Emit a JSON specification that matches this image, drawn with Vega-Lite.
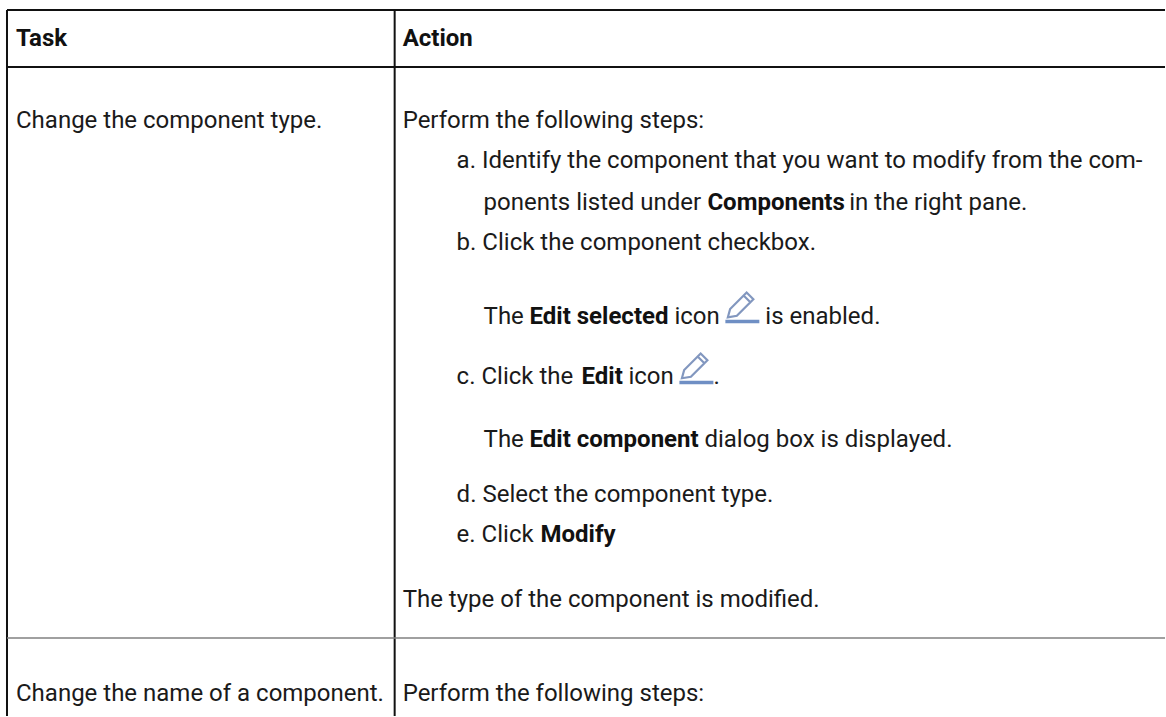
{"$schema":"https://vega.github.io/schema/vega-lite/v6.json","autosize":{"type":"fit","contains":"padding"},"width":1166,"height":717,"padding":0,"view":{"stroke":null},"background":"white",
"datasets":{"rules":[{"a":7,"b":1166,"c":10,"d":10},{"a":7,"b":1166,"c":67,"d":67},{"a":7,"b":7,"c":10,"d":717},{"a":395,"b":395,"c":10,"d":717}],"thin":[{"a":7,"b":1166,"c":639,"d":639}],
"icons":[{"x":742,"y":305},{"x":696,"y":366}],
"underlines":[{"a":726,"b":760,"c":322,"d":322},{"a":680,"b":714,"c":383,"d":383}],
"texts":[
{"x":16,"y":46,"t":"Task","w":"bold"},{"x":403,"y":46,"t":"Action","w":"bold"},
{"x":16,"y":128,"t":"Change the component type.","w":"normal"},
{"x":403,"y":128,"t":"Perform the following steps:","w":"normal"},
{"x":457,"y":168,"t":"a. Identify the component that you want to modify from the com-","w":"normal"},
{"x":484,"y":210,"t":"ponents listed under","w":"normal"},{"x":708,"y":210,"t":"Components","w":"bold"},{"x":850,"y":210,"t":"in the right pane.","w":"normal"},
{"x":457,"y":250,"t":"b. Click the component checkbox.","w":"normal"},
{"x":484,"y":324,"t":"The","w":"normal"},{"x":530,"y":324,"t":"Edit selected","w":"bold"},{"x":675,"y":324,"t":"icon","w":"normal"},{"x":766,"y":324,"t":"is enabled.","w":"normal"},
{"x":457,"y":385,"t":"c. Click the","w":"normal"},{"x":582,"y":385,"t":"Edit","w":"bold"},{"x":629,"y":385,"t":"icon","w":"normal"},{"x":714,"y":385,"t":".","w":"normal"},
{"x":484,"y":448,"t":"The","w":"normal"},{"x":530,"y":448,"t":"Edit component","w":"bold"},{"x":705,"y":448,"t":"dialog box is displayed.","w":"normal"},
{"x":457,"y":503,"t":"d. Select the component type.","w":"normal"},
{"x":457,"y":543,"t":"e. Click","w":"normal"},{"x":541,"y":543,"t":"Modify","w":"bold"},
{"x":403,"y":608,"t":"The type of the component is modified.","w":"normal"},
{"x":16,"y":702,"t":"Change the name of a component.","w":"normal"},
{"x":403,"y":702,"t":"Perform the following steps:","w":"normal"}]},
"layer":[
{"data":{"name":"rules"},"mark":{"type":"rule","color":"#111111","strokeWidth":2},"encoding":{"x":{"field":"a","type":"quantitative","scale":{"domain":[0,1166],"nice":false,"zero":false},"axis":null},"x2":{"field":"b"},"y":{"field":"c","type":"quantitative","scale":{"domain":[717,0],"nice":false,"zero":false},"axis":null},"y2":{"field":"d"}}},
{"data":{"name":"thin"},"mark":{"type":"rule","color":"#808080","strokeWidth":1.5},"encoding":{"x":{"field":"a","type":"quantitative","scale":{"domain":[0,1166],"nice":false,"zero":false},"axis":null},"x2":{"field":"b"},"y":{"field":"c","type":"quantitative","scale":{"domain":[717,0],"nice":false,"zero":false},"axis":null},"y2":{"field":"d"}}},
{"data":{"name":"underlines"},"mark":{"type":"rule","color":"#6f8fc4","strokeWidth":3.5},"encoding":{"x":{"field":"a","type":"quantitative","scale":{"domain":[0,1166],"nice":false,"zero":false},"axis":null},"x2":{"field":"b"},"y":{"field":"c","type":"quantitative","scale":{"domain":[717,0],"nice":false,"zero":false},"axis":null},"y2":{"field":"d"}}},
{"data":{"name":"icons"},"mark":{"type":"point","filled":false,"stroke":"#8297bf","strokeWidth":2.2,"opacity":1,"size":900,"shape":"M-0.9 0.85L-0.75 0.3L0.35 -0.8L0.8 -0.35L-0.3 0.75ZM0.15 -0.6L0.6 -0.15"},"encoding":{"x":{"field":"x","type":"quantitative","scale":{"domain":[0,1166],"nice":false,"zero":false},"axis":null},"y":{"field":"y","type":"quantitative","scale":{"domain":[717,0],"nice":false,"zero":false},"axis":null}}},
{"data":{"name":"texts"},"transform":[{"filter":"datum.w=='normal'"}],"mark":{"type":"text","font":"Roboto","align":"left","baseline":"alphabetic","fontSize":24,"color":"#1a1a1a"},"encoding":{"x":{"field":"x","type":"quantitative","scale":{"domain":[0,1166],"nice":false,"zero":false},"axis":null},"y":{"field":"y","type":"quantitative","scale":{"domain":[717,0],"nice":false,"zero":false},"axis":null},"text":{"field":"t"}}},
{"data":{"name":"texts"},"transform":[{"filter":"datum.w=='bold'"}],"mark":{"type":"text","font":"Roboto","fontWeight":"bold","align":"left","baseline":"alphabetic","fontSize":24,"color":"#111111"},"encoding":{"x":{"field":"x","type":"quantitative","scale":{"domain":[0,1166],"nice":false,"zero":false},"axis":null},"y":{"field":"y","type":"quantitative","scale":{"domain":[717,0],"nice":false,"zero":false},"axis":null},"text":{"field":"t"}}}
]}
